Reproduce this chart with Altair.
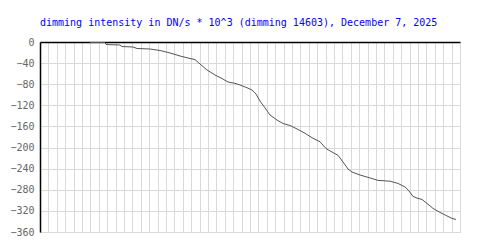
import altair as alt
import pandas as pd

title_text = "dimming intensity in DN/s * 10^3 (dimming 14603), December 7, 2025"

# time index (grid units) and dimming intensity values
t_vals = [5.95, 7.74, 7.86, 9.52, 9.76, 11.07, 11.55, 13.10, 14.29, 15.48, 16.67,
          17.86, 18.45, 19.05, 19.88, 20.83, 21.67, 22.38, 23.21, 23.81, 24.64,
          25.24, 25.71, 26.19, 26.79, 27.38, 28.21, 28.93, 29.76, 30.60, 31.55,
          32.50, 33.33, 34.05, 35.48, 36.07, 36.67, 37.14, 38.10, 39.29, 40.24,
          41.67, 42.62, 43.45, 43.93, 44.40, 45.00, 45.48, 46.07, 46.79, 47.62,
          48.45, 49.05, 49.52]
v_vals = [-1, -1, -4.7, -5.7, -8.5, -9.5, -12.3, -13.3, -16.1, -20.8, -26.5,
          -31.3, -33.2, -41.7, -53.0, -62.5, -69.2, -75.8, -78.3, -81.5, -86.6,
          -91.0, -98.5, -111.8, -125.0, -138.3, -147.8, -154.4, -158.2, -164.8, -173.0,
          -182.5, -188.9, -202.0, -214.8, -227.3, -240.6, -246.3, -252.0, -257.6, -262.2,
          -263.7, -268.0, -274.6, -282.2, -292.6, -296.4, -298.3, -305.9, -315.3, -322.9,
          -329.5, -334.3, -336.2]

df = pd.DataFrame({"t": t_vals, "v": v_vals})

x_grid = list(range(0, 51))
y_ticks = list(range(-360, 1, 40))

chart = alt.Chart(df).mark_line(color="#555555", strokeWidth=1, interpolate="linear").encode(
    x=alt.X("t:Q",
            scale=alt.Scale(domain=[0, 50], nice=False, zero=False),
            axis=alt.Axis(orient="top", values=x_grid, labels=False, ticks=False,
                          title=None, grid=True, gridColor="#d9d9d9", gridWidth=1,
                          domain=True, domainColor="#000000", domainWidth=1.5)),
    y=alt.Y("v:Q",
            scale=alt.Scale(domain=[-360, 0], nice=False, zero=False),
            axis=alt.Axis(values=y_ticks, ticks=False, title=None, grid=True,
                          gridColor="#d9d9d9", gridWidth=1, domain=True,
                          domainColor="#000000", domainWidth=1.5,
                          labelFont="DejaVu Sans Mono", labelFontSize=10,
                          labelColor="#666666", labelPadding=6)),
).properties(
    width=420,
    height=190,
    title=alt.TitleParams(text=title_text, anchor="start", frame="group",
                          font="DejaVu Sans Mono", fontSize=10, fontWeight="normal",
                          color="#0000ff", offset=9),
    padding={"left": 40, "top": 42, "right": 40, "bottom": 18},
    autosize=alt.AutoSizeParams(type="none"),
).configure_view(stroke=None).configure(background="white")

chart.save("out.html", embed_options={"renderer": "svg", "actions": False})
